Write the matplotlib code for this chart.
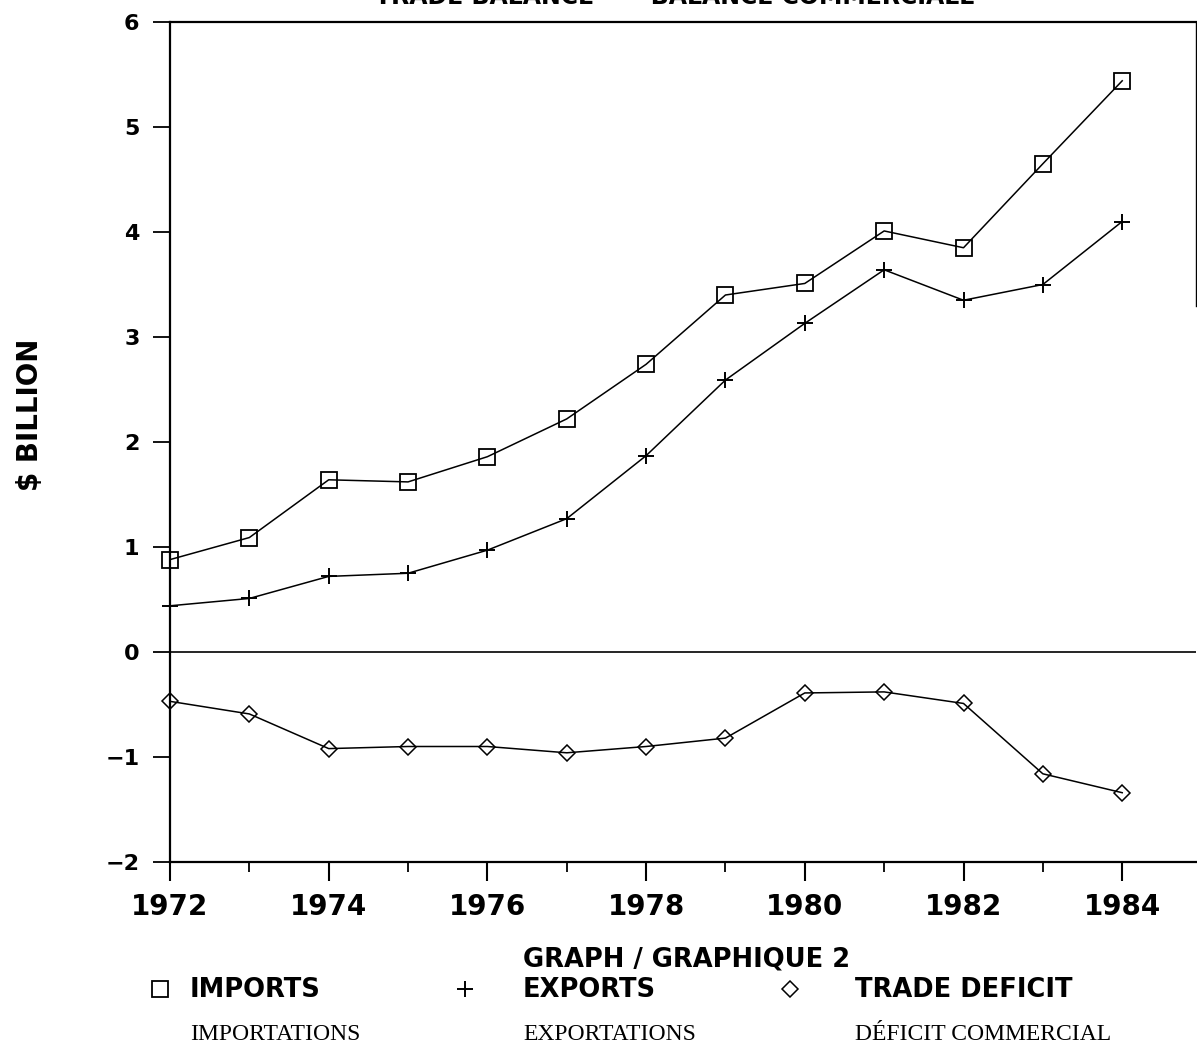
import matplotlib
matplotlib.use("Agg")
import matplotlib.pyplot as plt
from matplotlib.lines import Line2D
from matplotlib.ticker import MultipleLocator

years = [1972, 1973, 1974, 1975, 1976, 1977, 1978, 1979, 1980, 1981, 1982, 1983, 1984]
imports = [0.88, 1.09, 1.64, 1.62, 1.86, 2.22, 2.74, 3.40, 3.51, 4.01, 3.85, 4.65, 5.44]
exports = [0.44, 0.51, 0.72, 0.75, 0.97, 1.27, 1.87, 2.59, 3.13, 3.64, 3.35, 3.50, 4.10]
deficit = [-0.47, -0.59, -0.92, -0.90, -0.90, -0.96, -0.90, -0.82, -0.39, -0.38, -0.49, -1.16, -1.34]

labels_en = ["IMPORTS", "EXPORTS", "TRADE DEFICIT"]
labels_fr = ["IMPORTATIONS", "EXPORTATIONS", "DÉFICIT COMMERCIAL"]
title = "TRADE BALANCE  —  BALANCE COMMERCIALE"
graph_label = "GRAPH / GRAPHIQUE 2"

W, H = 1197, 1050
fig = plt.figure(figsize=(W / 100, H / 100), dpi=100)
ax = fig.add_axes([170 / W, 1 - 862 / H, (1196 - 170) / W, (862 - 22) / H])

lw = 1.1
styles = [
    dict(marker="s", markersize=11, markerfacecolor="none", markeredgewidth=1.3),
    dict(marker="+", markersize=12, markeredgewidth=1.4),
    dict(marker="D", markersize=8.5, markerfacecolor="none", markeredgewidth=1.1),
]
for vals, st in zip([imports, exports, deficit], styles):
    ax.plot(years, vals, color="black", lw=lw, markeredgecolor="black", clip_on=False, **st)

ax.axhline(0, color="black", lw=1.2)

ax.set_xlim(1972, 1984.93)
ax.set_ylim(-2, 6)
ax.xaxis.set_major_locator(MultipleLocator(2))
ax.xaxis.set_minor_locator(MultipleLocator(1))
ax.yaxis.set_major_locator(MultipleLocator(1))

for side in ["left", "bottom", "top", "right"]:
    ax.spines[side].set_linewidth(1.6)
ax.spines["right"].set_linewidth(1.0)
ax.spines["right"].set_bounds(3.3, 6)

ax.tick_params(axis="x", which="major", direction="out", length=14, width=1.5, pad=8)
ax.tick_params(axis="x", which="minor", direction="out", length=7, width=1.3)
ax.tick_params(axis="y", which="major", direction="out", length=12, width=1.3, pad=10)

ax.yaxis.set_major_formatter(plt.FuncFormatter(lambda v, p: f"{int(v)}".replace("-", "\u2212")))
for t in ax.get_xticklabels():
    t.set_fontsize(20)
    t.set_fontweight("bold")
for t in ax.get_yticklabels():
    t.set_fontsize(16)
    t.set_fontweight("bold")

fig.text(30 / W, 1 - 415 / H, "$ BILLION", rotation=90, fontsize=20, fontweight="bold",
         ha="center", va="center")

# title is cut off at the top edge of the scanned page
fig.text(675 / W, 1 - 4 / H, title, fontsize=17, fontweight="bold", ha="center", va="baseline")

fig.text(523 / W, 1 - 960 / H, graph_label, fontsize=18.5, fontweight="bold",
         ha="left", va="center")

marker_x = [160, 465, 790]
text_x = [190, 523, 855]
for mx, tx, st, en, fr in zip(marker_x, text_x, styles, labels_en, labels_fr):
    h = Line2D([], [], ls="none", color="black", markeredgecolor="black", **st)
    fig.legend([h], [""], loc="center", bbox_to_anchor=(mx / W, 1 - 990 / H),
               frameon=False, handlelength=1, handletextpad=0, borderpad=0,
               borderaxespad=0)
    fig.text(tx / W, 1 - 990 / H, en, fontsize=18.5, fontweight="bold",
             ha="left", va="center")
    fig.text(tx / W, 1 - 1034 / H, fr, fontsize=17, family="Liberation Serif",
             ha="left", va="center")

fig.savefig("out.png", dpi=100)
